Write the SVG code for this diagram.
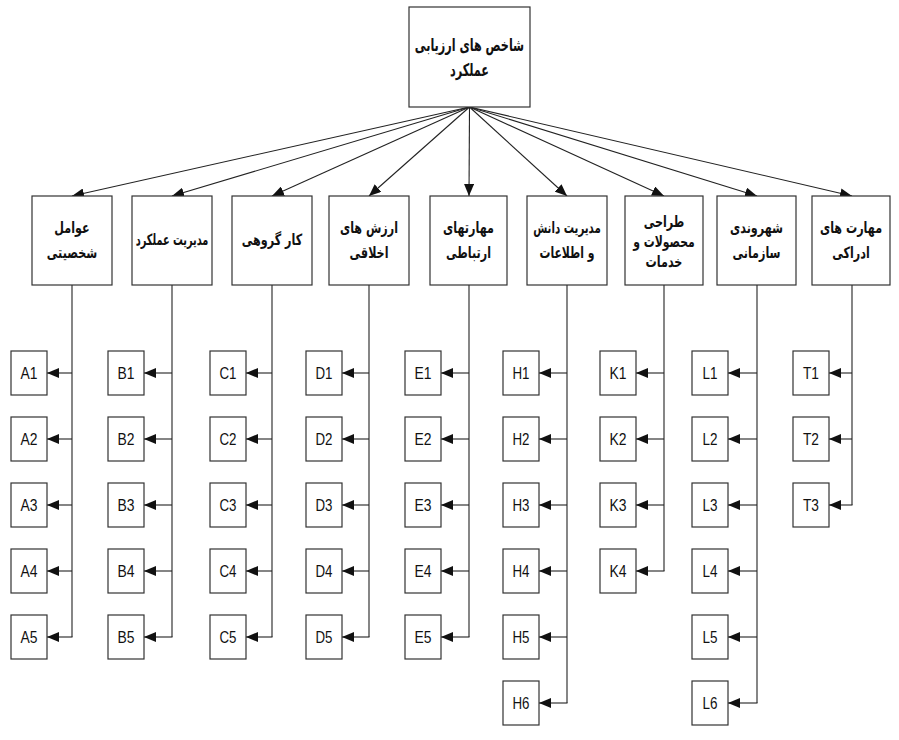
<svg xmlns="http://www.w3.org/2000/svg" width="899" height="740" viewBox="0 0 899 740">
<style>
.box{fill:#fff;stroke:#333;stroke-width:1.2}
.ar{font-family:"DejaVu Sans",sans-serif;font-weight:bold;font-size:15.5px;fill:#111;text-anchor:middle;direction:rtl}
.big{font-size:17.5px}
.lf{font-family:"Liberation Sans",Arial,sans-serif;font-size:17px;fill:#111;text-anchor:middle}
.ln{fill:none;stroke:#222;stroke-width:1.1}
</style>
<defs>
<marker id="ah" markerUnits="userSpaceOnUse" markerWidth="14" markerHeight="10" refX="12" refY="5" orient="auto"><path d="M0,0 L12,5 L0,10 Z" fill="#111"/></marker>
</defs>
<g id="connectors">
<line class="ln" x1="469.5" y1="107" x2="72" y2="196" marker-end="url(#ah)"/>
<line class="ln" x1="469.5" y1="107" x2="172" y2="196" marker-end="url(#ah)"/>
<line class="ln" x1="469.5" y1="107" x2="272" y2="196" marker-end="url(#ah)"/>
<line class="ln" x1="469.5" y1="107" x2="369" y2="196" marker-end="url(#ah)"/>
<line class="ln" x1="469.5" y1="107" x2="469" y2="196" marker-end="url(#ah)"/>
<line class="ln" x1="469.5" y1="107" x2="567" y2="196" marker-end="url(#ah)"/>
<line class="ln" x1="469.5" y1="107" x2="664" y2="196" marker-end="url(#ah)"/>
<line class="ln" x1="469.5" y1="107" x2="757" y2="196" marker-end="url(#ah)"/>
<line class="ln" x1="469.5" y1="107" x2="852" y2="196" marker-end="url(#ah)"/>
<path class="ln" d="M72,285 V637"/>
<line class="ln" x1="72" y1="373" x2="47" y2="373" marker-end="url(#ah)"/>
<line class="ln" x1="72" y1="439" x2="47" y2="439" marker-end="url(#ah)"/>
<line class="ln" x1="72" y1="505" x2="47" y2="505" marker-end="url(#ah)"/>
<line class="ln" x1="72" y1="571" x2="47" y2="571" marker-end="url(#ah)"/>
<line class="ln" x1="72.5" y1="637" x2="47" y2="637" marker-end="url(#ah)"/>
<path class="ln" d="M172,285 V637"/>
<line class="ln" x1="172" y1="373" x2="144" y2="373" marker-end="url(#ah)"/>
<line class="ln" x1="172" y1="439" x2="144" y2="439" marker-end="url(#ah)"/>
<line class="ln" x1="172" y1="505" x2="144" y2="505" marker-end="url(#ah)"/>
<line class="ln" x1="172" y1="571" x2="144" y2="571" marker-end="url(#ah)"/>
<line class="ln" x1="172.5" y1="637" x2="144" y2="637" marker-end="url(#ah)"/>
<path class="ln" d="M272,285 V637"/>
<line class="ln" x1="272" y1="373" x2="246" y2="373" marker-end="url(#ah)"/>
<line class="ln" x1="272" y1="439" x2="246" y2="439" marker-end="url(#ah)"/>
<line class="ln" x1="272" y1="505" x2="246" y2="505" marker-end="url(#ah)"/>
<line class="ln" x1="272" y1="571" x2="246" y2="571" marker-end="url(#ah)"/>
<line class="ln" x1="272.5" y1="637" x2="246" y2="637" marker-end="url(#ah)"/>
<path class="ln" d="M369,285 V637"/>
<line class="ln" x1="369" y1="373" x2="342" y2="373" marker-end="url(#ah)"/>
<line class="ln" x1="369" y1="439" x2="342" y2="439" marker-end="url(#ah)"/>
<line class="ln" x1="369" y1="505" x2="342" y2="505" marker-end="url(#ah)"/>
<line class="ln" x1="369" y1="571" x2="342" y2="571" marker-end="url(#ah)"/>
<line class="ln" x1="369.5" y1="637" x2="342" y2="637" marker-end="url(#ah)"/>
<path class="ln" d="M469,285 V637"/>
<line class="ln" x1="469" y1="373" x2="441" y2="373" marker-end="url(#ah)"/>
<line class="ln" x1="469" y1="439" x2="441" y2="439" marker-end="url(#ah)"/>
<line class="ln" x1="469" y1="505" x2="441" y2="505" marker-end="url(#ah)"/>
<line class="ln" x1="469" y1="571" x2="441" y2="571" marker-end="url(#ah)"/>
<line class="ln" x1="469.5" y1="637" x2="441" y2="637" marker-end="url(#ah)"/>
<path class="ln" d="M567,285 V703"/>
<line class="ln" x1="567" y1="373" x2="539" y2="373" marker-end="url(#ah)"/>
<line class="ln" x1="567" y1="439" x2="539" y2="439" marker-end="url(#ah)"/>
<line class="ln" x1="567" y1="505" x2="539" y2="505" marker-end="url(#ah)"/>
<line class="ln" x1="567" y1="571" x2="539" y2="571" marker-end="url(#ah)"/>
<line class="ln" x1="567" y1="637" x2="539" y2="637" marker-end="url(#ah)"/>
<line class="ln" x1="567.5" y1="703" x2="539" y2="703" marker-end="url(#ah)"/>
<path class="ln" d="M664,285 V571"/>
<line class="ln" x1="664" y1="373" x2="636" y2="373" marker-end="url(#ah)"/>
<line class="ln" x1="664" y1="439" x2="636" y2="439" marker-end="url(#ah)"/>
<line class="ln" x1="664" y1="505" x2="636" y2="505" marker-end="url(#ah)"/>
<line class="ln" x1="664.5" y1="571" x2="636" y2="571" marker-end="url(#ah)"/>
<path class="ln" d="M757,285 V703"/>
<line class="ln" x1="757" y1="373" x2="728" y2="373" marker-end="url(#ah)"/>
<line class="ln" x1="757" y1="439" x2="728" y2="439" marker-end="url(#ah)"/>
<line class="ln" x1="757" y1="505" x2="728" y2="505" marker-end="url(#ah)"/>
<line class="ln" x1="757" y1="571" x2="728" y2="571" marker-end="url(#ah)"/>
<line class="ln" x1="757" y1="637" x2="728" y2="637" marker-end="url(#ah)"/>
<line class="ln" x1="757.5" y1="703" x2="728" y2="703" marker-end="url(#ah)"/>
<path class="ln" d="M852,285 V505"/>
<line class="ln" x1="852" y1="373" x2="829" y2="373" marker-end="url(#ah)"/>
<line class="ln" x1="852" y1="439" x2="829" y2="439" marker-end="url(#ah)"/>
<line class="ln" x1="852.5" y1="505" x2="829" y2="505" marker-end="url(#ah)"/>
</g>
<g id="root"><rect class="box" x="409" y="7" width="121" height="100"/><text class="ar big" transform="translate(469.5,51) scale(0.64,1)">شاخص های ارزیابی</text><text class="ar big" transform="translate(469.5,76) scale(0.64,1)">عملکرد</text></g>
<g id="cat1"><rect class="box" x="32" y="196" width="80" height="89"/><text class="ar" transform="translate(72,233) scale(0.72,1)">عوامل</text><text class="ar" transform="translate(72,258) scale(0.72,1)">شخصیتی</text></g>
<g id="cat2"><rect class="box" x="132" y="196" width="80" height="89"/><text class="ar" transform="translate(172,245) scale(0.63,1)">مدیریت عملکرد</text></g>
<g id="cat3"><rect class="box" x="232" y="196" width="80" height="89"/><text class="ar" transform="translate(272,245) scale(0.72,1)">کار گروهی</text></g>
<g id="cat4"><rect class="box" x="329" y="196" width="80" height="89"/><text class="ar" transform="translate(369,233) scale(0.72,1)">ارزش های</text><text class="ar" transform="translate(369,258) scale(0.72,1)">اخلاقی</text></g>
<g id="cat5"><rect class="box" x="430" y="196" width="77" height="89"/><text class="ar" transform="translate(468.5,233) scale(0.72,1)">مهارتهای</text><text class="ar" transform="translate(468.5,258) scale(0.72,1)">ارتباطی</text></g>
<g id="cat6"><rect class="box" x="527" y="196" width="80" height="89"/><text class="ar" transform="translate(567,233) scale(0.66,1)">مدیریت دانش</text><text class="ar" transform="translate(567,258) scale(0.7,1)">و اطلاعات</text></g>
<g id="cat7"><rect class="box" x="625" y="196" width="78" height="89"/><text class="ar" transform="translate(664,227) scale(0.72,1)">طراحی</text><text class="ar" transform="translate(664,247) scale(0.7,1)">محصولات و</text><text class="ar" transform="translate(664,267) scale(0.72,1)">خدمات</text></g>
<g id="cat8"><rect class="box" x="717" y="196" width="79" height="89"/><text class="ar" transform="translate(756.5,233) scale(0.72,1)">شهروندی</text><text class="ar" transform="translate(756.5,258) scale(0.72,1)">سازمانی</text></g>
<g id="cat9"><rect class="box" x="812" y="196" width="78" height="89"/><text class="ar" transform="translate(851,233) scale(0.72,1)">مهارت های</text><text class="ar" transform="translate(851,258) scale(0.72,1)">ادراکی</text></g>
<g id="A1"><rect class="box" x="11" y="351" width="36" height="44"/><text class="lf" x="29" y="379" textLength="17" lengthAdjust="spacingAndGlyphs">A1</text></g>
<g id="A2"><rect class="box" x="11" y="417" width="36" height="44"/><text class="lf" x="29" y="445" textLength="17" lengthAdjust="spacingAndGlyphs">A2</text></g>
<g id="A3"><rect class="box" x="11" y="483" width="36" height="44"/><text class="lf" x="29" y="511" textLength="17" lengthAdjust="spacingAndGlyphs">A3</text></g>
<g id="A4"><rect class="box" x="11" y="549" width="36" height="44"/><text class="lf" x="29" y="577" textLength="17" lengthAdjust="spacingAndGlyphs">A4</text></g>
<g id="A5"><rect class="box" x="11" y="615" width="36" height="44"/><text class="lf" x="29" y="643" textLength="17" lengthAdjust="spacingAndGlyphs">A5</text></g>
<g id="B1"><rect class="box" x="108" y="351" width="36" height="44"/><text class="lf" x="126" y="379" textLength="17" lengthAdjust="spacingAndGlyphs">B1</text></g>
<g id="B2"><rect class="box" x="108" y="417" width="36" height="44"/><text class="lf" x="126" y="445" textLength="17" lengthAdjust="spacingAndGlyphs">B2</text></g>
<g id="B3"><rect class="box" x="108" y="483" width="36" height="44"/><text class="lf" x="126" y="511" textLength="17" lengthAdjust="spacingAndGlyphs">B3</text></g>
<g id="B4"><rect class="box" x="108" y="549" width="36" height="44"/><text class="lf" x="126" y="577" textLength="17" lengthAdjust="spacingAndGlyphs">B4</text></g>
<g id="B5"><rect class="box" x="108" y="615" width="36" height="44"/><text class="lf" x="126" y="643" textLength="17" lengthAdjust="spacingAndGlyphs">B5</text></g>
<g id="C1"><rect class="box" x="210" y="351" width="36" height="44"/><text class="lf" x="228" y="379" textLength="17" lengthAdjust="spacingAndGlyphs">C1</text></g>
<g id="C2"><rect class="box" x="210" y="417" width="36" height="44"/><text class="lf" x="228" y="445" textLength="17" lengthAdjust="spacingAndGlyphs">C2</text></g>
<g id="C3"><rect class="box" x="210" y="483" width="36" height="44"/><text class="lf" x="228" y="511" textLength="17" lengthAdjust="spacingAndGlyphs">C3</text></g>
<g id="C4"><rect class="box" x="210" y="549" width="36" height="44"/><text class="lf" x="228" y="577" textLength="17" lengthAdjust="spacingAndGlyphs">C4</text></g>
<g id="C5"><rect class="box" x="210" y="615" width="36" height="44"/><text class="lf" x="228" y="643" textLength="17" lengthAdjust="spacingAndGlyphs">C5</text></g>
<g id="D1"><rect class="box" x="306" y="351" width="36" height="44"/><text class="lf" x="324" y="379" textLength="17" lengthAdjust="spacingAndGlyphs">D1</text></g>
<g id="D2"><rect class="box" x="306" y="417" width="36" height="44"/><text class="lf" x="324" y="445" textLength="17" lengthAdjust="spacingAndGlyphs">D2</text></g>
<g id="D3"><rect class="box" x="306" y="483" width="36" height="44"/><text class="lf" x="324" y="511" textLength="17" lengthAdjust="spacingAndGlyphs">D3</text></g>
<g id="D4"><rect class="box" x="306" y="549" width="36" height="44"/><text class="lf" x="324" y="577" textLength="17" lengthAdjust="spacingAndGlyphs">D4</text></g>
<g id="D5"><rect class="box" x="306" y="615" width="36" height="44"/><text class="lf" x="324" y="643" textLength="17" lengthAdjust="spacingAndGlyphs">D5</text></g>
<g id="E1"><rect class="box" x="405" y="351" width="36" height="44"/><text class="lf" x="423" y="379" textLength="17" lengthAdjust="spacingAndGlyphs">E1</text></g>
<g id="E2"><rect class="box" x="405" y="417" width="36" height="44"/><text class="lf" x="423" y="445" textLength="17" lengthAdjust="spacingAndGlyphs">E2</text></g>
<g id="E3"><rect class="box" x="405" y="483" width="36" height="44"/><text class="lf" x="423" y="511" textLength="17" lengthAdjust="spacingAndGlyphs">E3</text></g>
<g id="E4"><rect class="box" x="405" y="549" width="36" height="44"/><text class="lf" x="423" y="577" textLength="17" lengthAdjust="spacingAndGlyphs">E4</text></g>
<g id="E5"><rect class="box" x="405" y="615" width="36" height="44"/><text class="lf" x="423" y="643" textLength="17" lengthAdjust="spacingAndGlyphs">E5</text></g>
<g id="H1"><rect class="box" x="503" y="351" width="36" height="44"/><text class="lf" x="521" y="379" textLength="17" lengthAdjust="spacingAndGlyphs">H1</text></g>
<g id="H2"><rect class="box" x="503" y="417" width="36" height="44"/><text class="lf" x="521" y="445" textLength="17" lengthAdjust="spacingAndGlyphs">H2</text></g>
<g id="H3"><rect class="box" x="503" y="483" width="36" height="44"/><text class="lf" x="521" y="511" textLength="17" lengthAdjust="spacingAndGlyphs">H3</text></g>
<g id="H4"><rect class="box" x="503" y="549" width="36" height="44"/><text class="lf" x="521" y="577" textLength="17" lengthAdjust="spacingAndGlyphs">H4</text></g>
<g id="H5"><rect class="box" x="503" y="615" width="36" height="44"/><text class="lf" x="521" y="643" textLength="17" lengthAdjust="spacingAndGlyphs">H5</text></g>
<g id="H6"><rect class="box" x="503" y="681" width="36" height="44"/><text class="lf" x="521" y="709" textLength="17" lengthAdjust="spacingAndGlyphs">H6</text></g>
<g id="K1"><rect class="box" x="600" y="351" width="36" height="44"/><text class="lf" x="618" y="379" textLength="17" lengthAdjust="spacingAndGlyphs">K1</text></g>
<g id="K2"><rect class="box" x="600" y="417" width="36" height="44"/><text class="lf" x="618" y="445" textLength="17" lengthAdjust="spacingAndGlyphs">K2</text></g>
<g id="K3"><rect class="box" x="600" y="483" width="36" height="44"/><text class="lf" x="618" y="511" textLength="17" lengthAdjust="spacingAndGlyphs">K3</text></g>
<g id="K4"><rect class="box" x="600" y="549" width="36" height="44"/><text class="lf" x="618" y="577" textLength="17" lengthAdjust="spacingAndGlyphs">K4</text></g>
<g id="L1"><rect class="box" x="692" y="351" width="36" height="44"/><text class="lf" x="710" y="379" textLength="15" lengthAdjust="spacingAndGlyphs">L1</text></g>
<g id="L2"><rect class="box" x="692" y="417" width="36" height="44"/><text class="lf" x="710" y="445" textLength="15" lengthAdjust="spacingAndGlyphs">L2</text></g>
<g id="L3"><rect class="box" x="692" y="483" width="36" height="44"/><text class="lf" x="710" y="511" textLength="15" lengthAdjust="spacingAndGlyphs">L3</text></g>
<g id="L4"><rect class="box" x="692" y="549" width="36" height="44"/><text class="lf" x="710" y="577" textLength="15" lengthAdjust="spacingAndGlyphs">L4</text></g>
<g id="L5"><rect class="box" x="692" y="615" width="36" height="44"/><text class="lf" x="710" y="643" textLength="15" lengthAdjust="spacingAndGlyphs">L5</text></g>
<g id="L6"><rect class="box" x="692" y="681" width="36" height="44"/><text class="lf" x="710" y="709" textLength="15" lengthAdjust="spacingAndGlyphs">L6</text></g>
<g id="T1"><rect class="box" x="793" y="351" width="36" height="44"/><text class="lf" x="811" y="379" textLength="16" lengthAdjust="spacingAndGlyphs">T1</text></g>
<g id="T2"><rect class="box" x="793" y="417" width="36" height="44"/><text class="lf" x="811" y="445" textLength="16" lengthAdjust="spacingAndGlyphs">T2</text></g>
<g id="T3"><rect class="box" x="793" y="483" width="36" height="44"/><text class="lf" x="811" y="511" textLength="16" lengthAdjust="spacingAndGlyphs">T3</text></g>
</svg>
